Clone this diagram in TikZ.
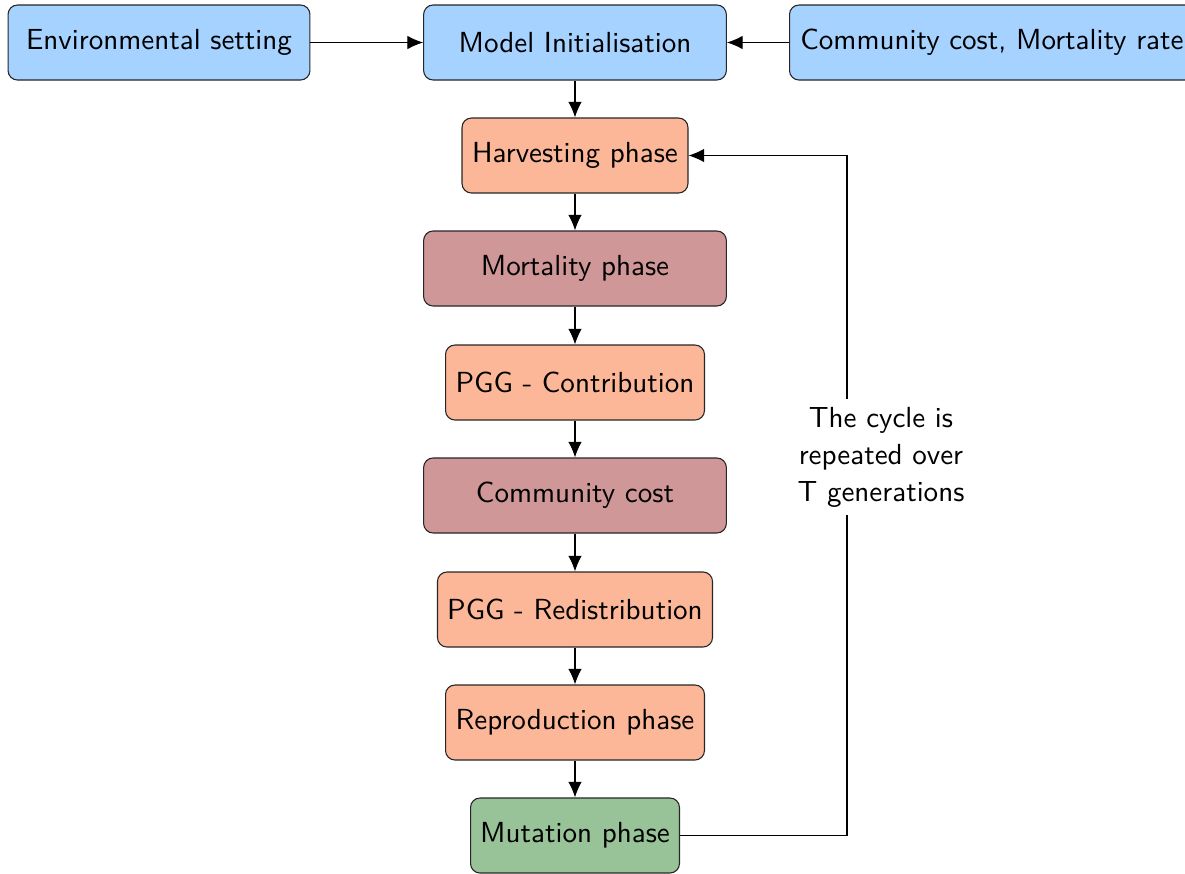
\documentclass[tikz,border=0pt]{standalone}
\usetikzlibrary{arrows.meta}
\definecolor{inputblue}{RGB}{166,210,255}
\definecolor{phaseorange}{RGB}{251,183,152}
\definecolor{costmauve}{RGB}{207,151,151}
\definecolor{mutgreen}{RGB}{152,194,152}
\begin{document}
\begin{tikzpicture}[
  x=0.37pt, y=-0.37pt,
  font=\sffamily\fontsize{10.75}{13.7}\selectfont,
  box/.style={draw=black!85, rounded corners=3.5pt, minimum height=27.75pt,
    inner xsep=2pt, align=center},
  inbox/.style={box, fill=inputblue},
  phbox/.style={box, fill=phaseorange},
  costbox/.style={box, fill=costmauve},
  mutbox/.style={box, fill=mutgreen},
  arr/.style={-{Latex[length=5.8pt,width=5pt]}, line width=0.4pt},
]
\useasboundingbox (0,0) rectangle (1185,874);

% inputs to the model
\node[inbox, minimum width=111.7pt] (env) at (159,42.5) {Environmental setting};
\node[inbox, minimum width=112pt] (init) at (575,42.5) {Model Initialisation};
\node[inbox, anchor=west, inner xsep=4pt] (par) at (789,42.5) {Community cost, Mortality rate};

% one generation of the simulation
\node[phbox, minimum width=83.6pt] (harv) at (575,155.5) {Harvesting phase};
\node[costbox, minimum width=112pt] (mort) at (575,268.5) {Mortality phase};
\node[phbox, minimum width=95.8pt] (contr) at (575,382.5) {PGG - Contribution};
\node[costbox, minimum width=112pt] (ccost) at (575,495.5) {Community cost};
\node[phbox, minimum width=101.75pt] (redis) at (575,609.5) {PGG - Redistribution};
\node[phbox, minimum width=95.8pt] (repr) at (575,722.5) {Reproduction phase};
\node[mutbox, minimum width=77.3pt] (mut) at (575,835.5) {Mutation phase};

\draw[arr] (env) -- (init);
\draw[arr] (par) -- (init);
\draw[arr] (init) -- (harv);
\draw[arr] (harv) -- (mort);
\draw[arr] (mort) -- (contr);
\draw[arr] (contr) -- (ccost);
\draw[arr] (ccost) -- (redis);
\draw[arr] (redis) -- (repr);
\draw[arr] (repr) -- (mut);

% feedback loop back to the harvesting phase
\coordinate (turn) at (847,457);
\draw[arr] (mut.east) -| (turn) |- (harv.east);
\node[fill=white, align=center, inner xsep=2pt, inner ysep=3pt] (cyc) at (881,457)
  {The cycle is\\repeated over\\T generations};
\end{tikzpicture}
\end{document}
